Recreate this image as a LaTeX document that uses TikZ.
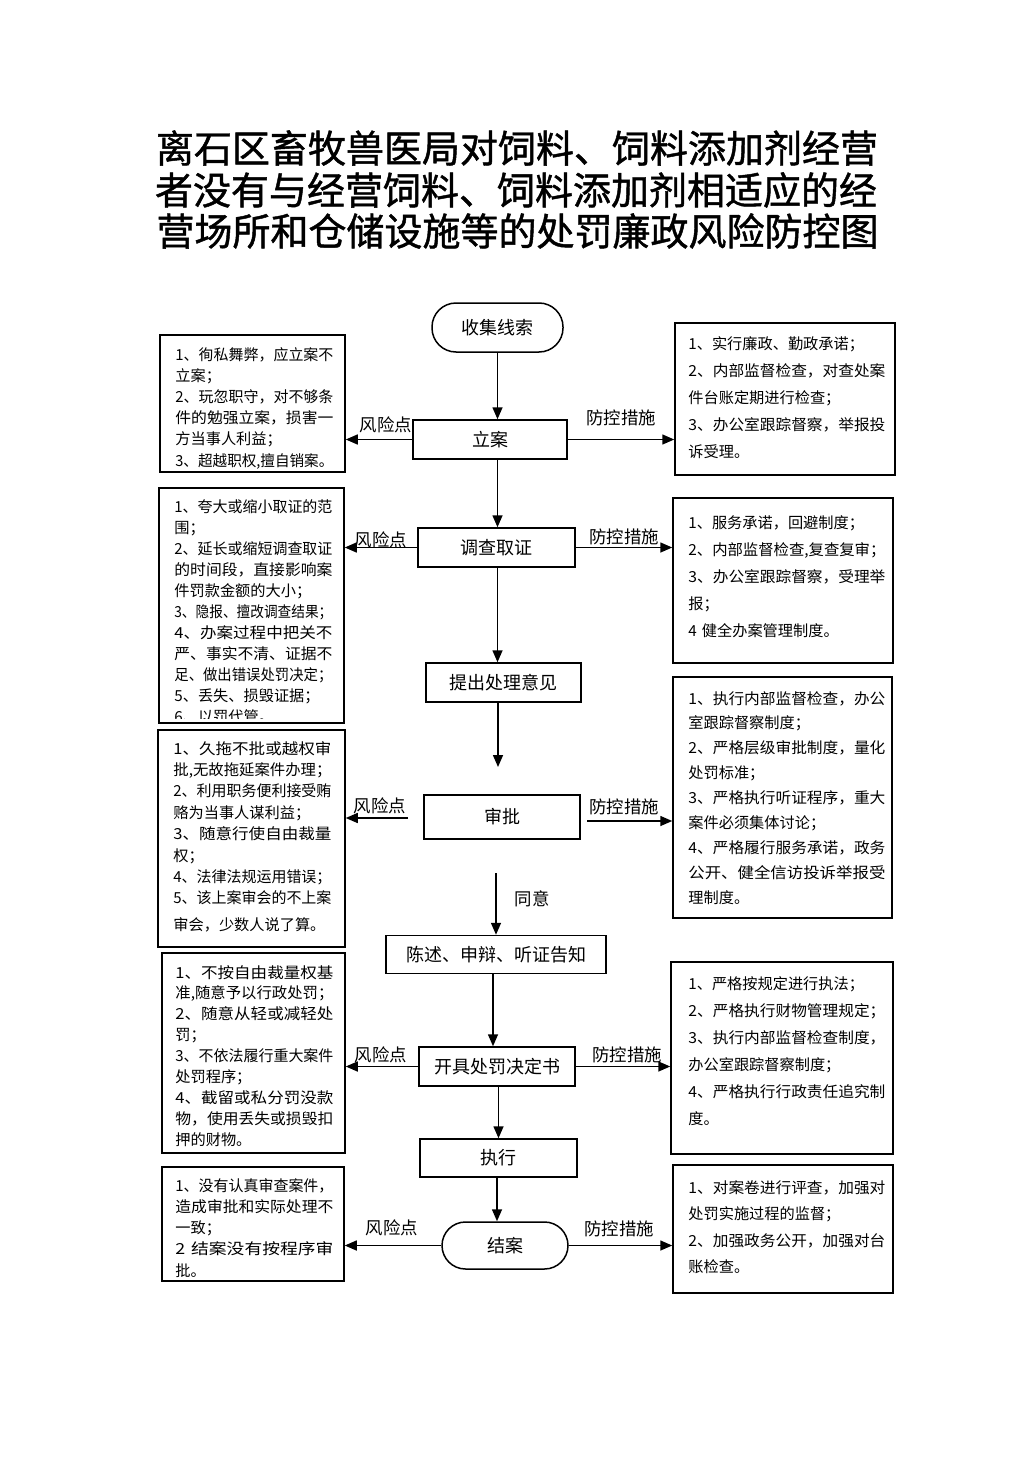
\documentclass[tikz,border=0pt]{standalone}
\usepackage{fontspec}
\usepackage{graphicx}
\setmainfont{Noto Sans CJK SC}
\newfontfamily\ttlfont{Noto Sans CJK SC}[BoldFont={Noto Sans CJK SC},BoldFeatures={FakeBold=1.2}]
\usetikzlibrary{arrows.meta,fit}
\newcommand\fL[1]{\resizebox{79pt}{\height}{#1}}
\newcommand\fR[1]{\resizebox{98.5pt}{\height}{#1}}
\begin{document}
\begin{tikzpicture}[x=0.5pt,y=-0.5pt,
  box/.style={draw,line width=0.75pt,inner sep=0pt},
  flow/.style={draw,line width=0.75pt,inner sep=0pt,font=\fontsize{9}{9}\selectfont},
  term/.style={flow,rounded corners=12pt},
  ltext/.style={inner sep=0pt,anchor=base west,text width=84pt,align=left},
  rtext/.style={inner sep=0pt,anchor=base west,text width=104pt,align=left},
  arr/.style={line width=0.75pt,-{Triangle[length=6pt,width=5pt]}},
  lab/.style={inner sep=0pt,font=\fontsize{8.7}{8.7}\selectfont},
  ttl/.style={inner sep=0pt,font=\fontsize{19}{21}\selectfont\ttlfont\bfseries}
  ]
\fill[white] (0,0) rectangle (1033,1461);
\useasboundingbox (0,0) rectangle (1033,1461);

% title
\node[ttl] (t1) at (517,148) {离石区畜牧兽医局对饲料、饲料添加剂经营};
\node[ttl] (t2) at (516,190) {者没有与经营饲料、饲料添加剂相适应的经};
\node[ttl] (t3) at (517.5,231) {营场所和仓储设施等的处罚廉政风险防控图};

% flow nodes
\node[term,minimum width=65.5pt,minimum height=24.5pt] (s0) at (497.5,327.5) {收集线索};
\node[flow,minimum width=77pt,minimum height=19.5pt] (s1) at (490,439.5) {立案};
\node[flow,minimum width=78.5pt,minimum height=19.5pt] (s2) at (496.5,547.5) {调查取证};
\node[flow,minimum width=77.5pt,minimum height=19.5pt] (s3) at (503.5,682.5) {提出处理意见};
\node[flow,minimum width=78pt,minimum height=22pt] (s4) at (502,817) {审批};
\node[flow,minimum width=110pt,minimum height=19pt] (s5) at (496,954.5) {陈述、申辩、听证告知};
\node[flow,minimum width=78pt,minimum height=19.5pt] (s6) at (497,1066.5) {开具处罚决定书};
\node[flow,minimum width=78.5pt,minimum height=19pt] (s7) at (498.5,1158) {执行};
\node[term,minimum width=63pt,minimum height=23.5pt,rounded corners=11.75pt] (s8) at (505,1245.5) {结案};

% side boxes
\node[box,fit={(160,335) (345,472)}] (L1) {};
\node[box,fit={(159,488) (344,723)}] (L2) {};
\node[box,fit={(158,730) (345,947)}] (L3) {};
\node[box,fit={(162,953) (345,1153)}] (L4) {};
\node[box,fit={(162,1167) (344,1281)}] (L5) {};
\node[box,fit={(675,323) (895,475)}] (R1) {};
\node[box,fit={(673,498) (893,663)}] (R2) {};
\node[box,fit={(673,677) (892,918)}] (R3) {};
\node[box,fit={(671,962) (893,1154)}] (R4) {};
\node[box,fit={(673,1165) (893,1293)}] (R5) {};

% left texts
\node[ltext,font=\fontsize{7.6}{10.6}\selectfont] (L1t) at (175,360) {\fL{1、徇私舞弊，应立案不}\\立案；\\\fL{2、玩忽职守，对不够条}\\\fL{件的勉强立案，损害一}\\方当事人利益；\\\fL{3、超越职权,擅自销案。}};
\begin{scope}
\clip (159,488) rectangle (344,718);
\node[ltext,font=\fontsize{7.6}{10.5}\selectfont] (L2t) at (174,512) {\fL{1、夸大或缩小取证的范}\\围；\\\fL{2、延长或缩短调查取证}\\\fL{的时间段，直接影响案}\\件罚款金额的大小；\\\fL{3、隐报、擅改调查结果；}\\\fL{4、办案过程中把关不}\\\fL{严、事实不清、证据不}\\\fL{足、做出错误处罚决定；}\\5、丢失、损毁证据；\\6、以罚代管。};
\end{scope}
\node[ltext,font=\fontsize{7.6}{10.7}\selectfont] (L3t) at (173,754) {\fL{1、久拖不批或越权审}\\\fL{批,无故拖延案件办理；}\\\fL{2、利用职务便利接受贿}\\赂为当事人谋利益；\\\fL{3、随意行使自由裁量}\\权；\\\fL{4、法律法规运用错误；}\\\fL{5、该上案审会的不上案}\\[2.5pt]审会，少数人说了算。};
\node[ltext,font=\fontsize{7.6}{10.45}\selectfont] (L4t) at (175,978) {\fL{1、不按自由裁量权基}\\\fL{准,随意予以行政处罚；}\\\fL{2、随意从轻或减轻处}\\罚；\\\fL{3、不依法履行重大案件}\\处罚程序；\\\fL{4、截留或私分罚没款}\\\fL{物，使用丢失或损毁扣}\\押的财物。};
\node[ltext,font=\fontsize{7.6}{10.65}\selectfont] (L5t) at (175,1191) {\fL{1、没有认真审查案件，}\\\fL{造成审批和实际处理不}\\一致；\\\fL{2 结案没有按程序审}\\批。};

% right texts
\node[rtext,font=\fontsize{7.6}{13.5}\selectfont] (R1t) at (688,349) {1、实行廉政、勤政承诺；\\\fR{2、内部监督检查，对查处案}\\件台账定期进行检查；\\\fR{3、办公室跟踪督察，举报投}\\诉受理。};
\node[rtext,font=\fontsize{7.6}{13.5}\selectfont] (R2t) at (688,528) {1、服务承诺，回避制度；\\\fR{2、内部监督检查,复查复审；}\\\fR{3、办公室跟踪督察，受理举}\\报；\\4 健全办案管理制度。};
\node[rtext,font=\fontsize{7.6}{12.45}\selectfont] (R3t) at (688,704) {\fR{1、执行内部监督检查，办公}\\室跟踪督察制度；\\\fR{2、严格层级审批制度，量化}\\处罚标准；\\\fR{3、严格执行听证程序，重大}\\案件必须集体讨论；\\\fR{4、严格履行服务承诺，政务}\\\fR{公开、健全信访投诉举报受}\\理制度。};
\node[rtext,font=\fontsize{7.6}{13.5}\selectfont] (R4t) at (688,989) {1、严格按规定进行执法；\\\fR{2、严格执行财物管理规定；}\\\fR{3、执行内部监督检查制度，}\\办公室跟踪督察制度；\\\fR{4、严格执行行政责任追究制}\\度。};
\node[rtext,font=\fontsize{7.6}{13.3}\selectfont] (R5t) at (688,1193) {\fR{1、对案卷进行评查，加强对}\\处罚实施过程的监督；\\\fR{2、加强政务公开，加强对台}\\账检查。};

% vertical connectors
\draw[arr] (s0.south) -- (s0.south |- s1.north);
\draw[arr] (s1.south -| s0.south) -- (s0.south |- s2.north);
\draw[arr] (s2.south -| s0.south) -- (s0.south |- s3.north);
\coordinate (c4) at (498,767);
\draw[arr] (s3.south -| c4) -- (c4);
\coordinate (c5) at (496,873);
\draw[arr] (c5) -- (c5 |- s5.north);
\node[lab] (agree) at (532,899) {同意};
\draw[arr] ([xshift=-1.5pt]s5.south) -- ([xshift=-1.5pt]s5.south |- s6.north);
\draw[arr] (s6.south -| s7.south) -- (s7.north);
\draw[arr] ([xshift=-0.75pt]s7.south) -- ([xshift=-0.75pt]s7.south |- s8.north);

% horizontal connectors
\draw[arr] (s1.west) -- (s1.west -| L1.east);
\draw[arr] (s1.east) -- (s1.east -| R1.west);
\draw[arr] (s2.west) -- (s2.west -| L2.east);
\draw[arr] (s2.east) -- (s2.east -| R2.west);
\coordinate (c3l) at (408,818);
\coordinate (c3r) at (587,821);
\draw[arr] (c3l) -- (c3l -| L3.east);
\draw[arr] (c3r) -- (c3r -| R3.west);
\draw[arr] (s6.west) -- (s6.west -| L4.east);
\draw[arr] (s6.east) -- (s6.east -| R4.west);
\draw[arr] (s8.west) -- (s8.west -| L5.east);
\draw[arr] (s8.east) -- (s8.east -| R5.west);

% labels
\node[lab] (k1) at (386,425) {风险点};
\node[lab] (m1) at (621,418) {防控措施};
\node[lab] (k2) at (381,540) {风险点};
\node[lab] (m2) at (624,537) {防控措施};
\node[lab] (k3) at (380,806) {风险点};
\node[lab] (m3) at (624,807) {防控措施};
\node[lab] (k4) at (381,1055) {风险点};
\node[lab] (m4) at (627,1055) {防控措施};
\node[lab] (k5) at (392,1228) {风险点};
\node[lab] (m5) at (619,1229) {防控措施};
\end{tikzpicture}
\end{document}
